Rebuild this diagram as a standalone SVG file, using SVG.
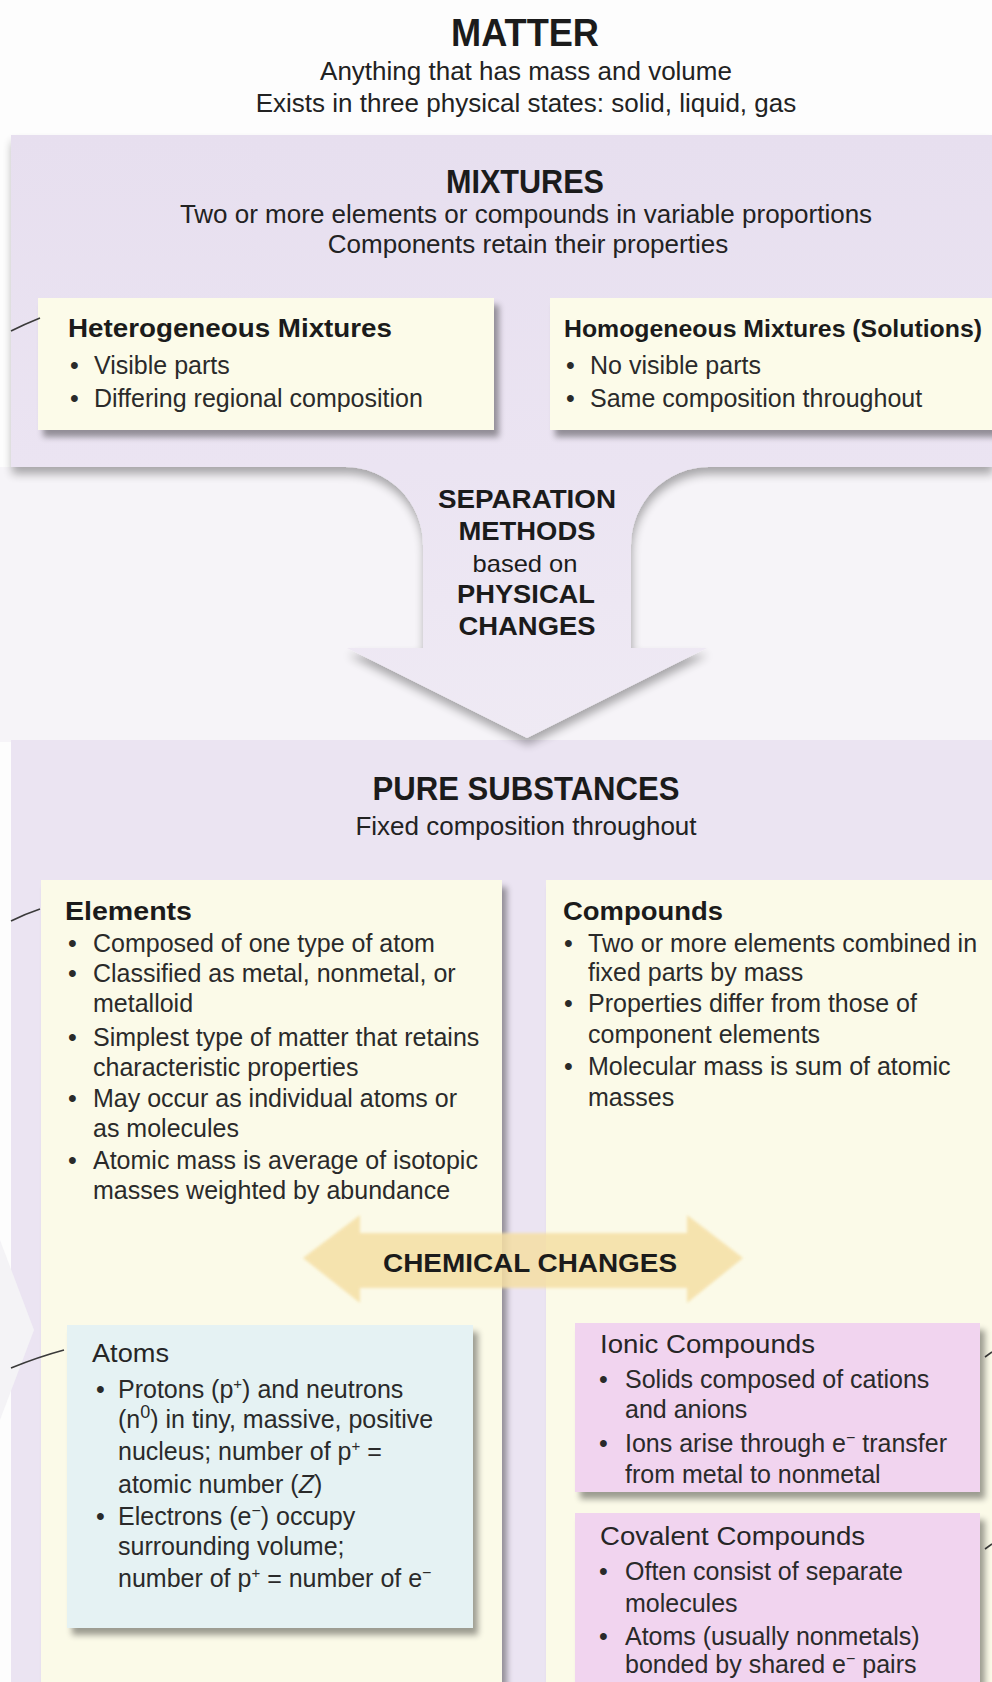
<svg xmlns="http://www.w3.org/2000/svg" width="992" height="1682" viewBox="0 0 992 1682">
<style>
text{font-family:"Liberation Sans",Arial,Helvetica,sans-serif;fill:#1b1b1b}
.h1{font-weight:bold;text-anchor:middle}
.sub{font-size:26px;text-anchor:middle;fill:#222}
.bt{font-size:26px;font-weight:bold}
.rt{font-size:25.5px;fill:#262626}
.b{font-size:25px;fill:#2a2a2a}
.al{font-weight:bold;font-size:25px;text-anchor:middle}
.lead{stroke:#3a3a3a;stroke-width:1.6;fill:none}
.cream{fill:#fcfbe9}
.panel{fill:#fbfae8}
.atom{fill:#e5f2f3}
.pink{fill:#f1d4ef}
</style>
<defs>
<linearGradient id="lav" gradientUnits="userSpaceOnUse" x1="0" y1="135" x2="0" y2="740">
<stop offset="0" stop-color="#e7dfef"/>
<stop offset="0.55" stop-color="#ebe4f2"/>
<stop offset="1" stop-color="#efeaf4"/>
</linearGradient>
<filter id="sh" x="-10%" y="-10%" width="130%" height="140%">
<feGaussianBlur in="SourceAlpha" stdDeviation="3"/>
<feOffset dx="5" dy="7"/>
<feComponentTransfer><feFuncA type="linear" slope="0.38"/></feComponentTransfer>
<feMerge><feMergeNode/><feMergeNode in="SourceGraphic"/></feMerge>
</filter>
<filter id="sh2" x="-5%" y="-5%" width="110%" height="115%">
<feGaussianBlur in="SourceAlpha" stdDeviation="5"/>
<feOffset dx="1" dy="7"/>
<feComponentTransfer><feFuncA type="linear" slope="0.32"/></feComponentTransfer>
<feMerge><feMergeNode/><feMergeNode in="SourceGraphic"/></feMerge>
</filter>
<filter id="soft" x="-5%" y="-20%" width="110%" height="140%">
<feGaussianBlur stdDeviation="1.5"/>
</filter>
</defs>

<!-- backgrounds -->
<rect width="992" height="1682" fill="#fdfdfd"/>
<rect x="0" y="467" width="992" height="275" fill="#f6f4f8"/>
<rect x="11" y="740" width="981" height="942" fill="#ebe4f2"/>
<polygon points="0,1240 34,1330 0,1420" fill="#f4f3f6"/>

<g id="mixtures-band">
<path d="M11,135 H992 V467 H709 A78 78 0 0 0 631,545 V648 H707 L527,738 L347,648 H423 V545 A78 78 0 0 0 345,467 H11 Z" fill="url(#lav)" filter="url(#sh2)"/>
</g>

<g id="matter">
<text class="h1" x="525" y="46" font-size="38" textLength="148" lengthAdjust="spacingAndGlyphs">MATTER</text>
<text class="sub" x="526" y="80">Anything that has mass and volume</text>
<text class="sub" x="526" y="112">Exists in three physical states: solid, liquid, gas</text>
</g>

<g id="mixtures">
<text class="h1" x="525" y="193" font-size="34" textLength="158" lengthAdjust="spacingAndGlyphs">MIXTURES</text>
<text class="sub" x="526" y="223">Two or more elements or compounds in variable proportions</text>
<text class="sub" x="528" y="253">Components retain their properties</text>
</g>

<g id="heterogeneous">
<rect class="cream" x="38" y="298" width="456" height="132" filter="url(#sh)"/>
<text class="bt" x="68" y="337" textLength="324" lengthAdjust="spacingAndGlyphs">Heterogeneous Mixtures</text>
<text class="b" x="70" y="374">•</text><text class="b" x="94" y="374">Visible parts</text>
<text class="b" x="70" y="407">•</text><text class="b" x="94" y="407">Differing regional composition</text>
</g>

<g id="homogeneous">
<rect class="cream" x="550" y="298" width="460" height="132" filter="url(#sh)"/>
<text x="564" y="337" font-size="24.5" font-weight="bold" textLength="418" lengthAdjust="spacingAndGlyphs">Homogeneous Mixtures (Solutions)</text>
<text class="b" x="566" y="374">•</text><text class="b" x="590" y="374">No visible parts</text>
<text class="b" x="566" y="407">•</text><text class="b" x="590" y="407">Same composition throughout</text>
</g>

<g id="separation">
<text class="al" x="527" y="508" textLength="178" lengthAdjust="spacingAndGlyphs">SEPARATION</text>
<text class="al" x="527" y="540" textLength="137" lengthAdjust="spacingAndGlyphs">METHODS</text>
<text x="525" y="572" font-size="24" text-anchor="middle" textLength="105" lengthAdjust="spacingAndGlyphs">based on</text>
<text class="al" x="526" y="603" textLength="138" lengthAdjust="spacingAndGlyphs">PHYSICAL</text>
<text class="al" x="527" y="635" textLength="137" lengthAdjust="spacingAndGlyphs">CHANGES</text>
</g>

<g id="pure-substances">
<text class="h1" x="526" y="800" font-size="34" textLength="307" lengthAdjust="spacingAndGlyphs">PURE SUBSTANCES</text>
<text class="sub" x="526" y="835">Fixed composition throughout</text>
</g>

<g id="elements">
<rect class="panel" x="41" y="880" width="461" height="830" filter="url(#sh)"/>
<text class="bt" x="65" y="920" textLength="127" lengthAdjust="spacingAndGlyphs">Elements</text>
<text class="b" x="68" y="952">•</text><text class="b" x="93" y="952">Composed of one type of atom</text>
<text class="b" x="68" y="982">•</text><text class="b" x="93" y="982">Classified as metal, nonmetal, or</text>
<text class="b" x="93" y="1012">metalloid</text>
<text class="b" x="68" y="1046">•</text><text class="b" x="93" y="1046">Simplest type of matter that retains</text>
<text class="b" x="93" y="1076">characteristic properties</text>
<text class="b" x="68" y="1107">•</text><text class="b" x="93" y="1107">May occur as individual atoms or</text>
<text class="b" x="93" y="1137">as molecules</text>
<text class="b" x="68" y="1169">•</text><text class="b" x="93" y="1169">Atomic mass is average of isotopic</text>
<text class="b" x="93" y="1199">masses weighted by abundance</text>
</g>

<g id="compounds">
<rect class="panel" x="546" y="880" width="470" height="830" filter="url(#sh)"/>
<text class="bt" x="563" y="920" textLength="160" lengthAdjust="spacingAndGlyphs">Compounds</text>
<text class="b" x="564" y="952">•</text><text class="b" x="588" y="952">Two or more elements combined in</text>
<text class="b" x="588" y="981">fixed parts by mass</text>
<text class="b" x="564" y="1012">•</text><text class="b" x="588" y="1012">Properties differ from those of</text>
<text class="b" x="588" y="1043">component elements</text>
<text class="b" x="564" y="1075">•</text><text class="b" x="588" y="1075">Molecular mass is sum of atomic</text>
<text class="b" x="588" y="1106">masses</text>
</g>

<g id="connectors">
<path d="M303,1258 L360,1215 V1233 H687 V1215 L743,1258 L687,1303 V1288 H360 V1303 Z" fill="#f5dfa4" opacity="0.85" filter="url(#soft)"/>
<text x="530" y="1272" font-size="25" font-weight="bold" text-anchor="middle" textLength="294" lengthAdjust="spacingAndGlyphs">CHEMICAL CHANGES</text>
<path class="lead" d="M11,331 Q25,324 40,318"/>
<path class="lead" d="M11,921 Q25,914 40,909"/>
<path class="lead" d="M11,1368 Q38,1357 64,1350"/>
<path class="lead" d="M985,1357 L992,1352"/>
<path class="lead" d="M985,1549 L992,1544"/>
</g>

<g id="atoms">
<rect class="atom" x="67" y="1325" width="406" height="303" filter="url(#sh)"/>
<text class="rt" x="92" y="1362" textLength="77" lengthAdjust="spacingAndGlyphs">Atoms</text>
<text class="b" x="96" y="1398">•</text><text class="b" x="118" y="1398">Protons (p<tspan dy="-9" font-size="15">+</tspan><tspan dy="9">) and neutrons</tspan></text>
<text class="b" x="118" y="1428">(n<tspan dy="-10" font-size="18">0</tspan><tspan dy="10">) in tiny, massive, positive</tspan></text>
<text class="b" x="118" y="1460">nucleus; number of p<tspan dy="-9" font-size="15">+</tspan><tspan dy="9"> =</tspan></text>
<text class="b" x="118" y="1493">atomic number (<tspan font-style="italic">Z</tspan>)</text>
<text class="b" x="96" y="1525">•</text><text class="b" x="118" y="1525">Electrons (e<tspan dy="-9" font-size="16">−</tspan><tspan dy="9">) occupy</tspan></text>
<text class="b" x="118" y="1555">surrounding volume;</text>
<text class="b" x="118" y="1587">number of p<tspan dy="-9" font-size="15">+</tspan><tspan dy="9"> = number of e</tspan><tspan dy="-9" font-size="16">−</tspan></text>
</g>

<g id="ionic">
<rect class="pink" x="575" y="1323" width="405" height="169" filter="url(#sh)"/>
<text class="rt" x="600" y="1353" textLength="215" lengthAdjust="spacingAndGlyphs">Ionic Compounds</text>
<text class="b" x="599" y="1388">•</text><text class="b" x="625" y="1388">Solids composed of cations</text>
<text class="b" x="625" y="1418">and anions</text>
<text class="b" x="599" y="1452">•</text><text class="b" x="625" y="1452">Ions arise through e<tspan dy="-9" font-size="16">−</tspan><tspan dy="9"> transfer</tspan></text>
<text class="b" x="625" y="1483">from metal to nonmetal</text>
</g>

<g id="covalent">
<rect class="pink" x="575" y="1513" width="405" height="200" filter="url(#sh)"/>
<text class="rt" x="600" y="1545" textLength="265" lengthAdjust="spacingAndGlyphs">Covalent Compounds</text>
<text class="b" x="599" y="1580">•</text><text class="b" x="625" y="1580">Often consist of separate</text>
<text class="b" x="625" y="1612">molecules</text>
<text class="b" x="599" y="1645">•</text><text class="b" x="625" y="1645">Atoms (usually nonmetals)</text>
<text class="b" x="625" y="1673">bonded by shared e<tspan dy="-9" font-size="16">−</tspan><tspan dy="9"> pairs</tspan></text>
</g>
</svg>
